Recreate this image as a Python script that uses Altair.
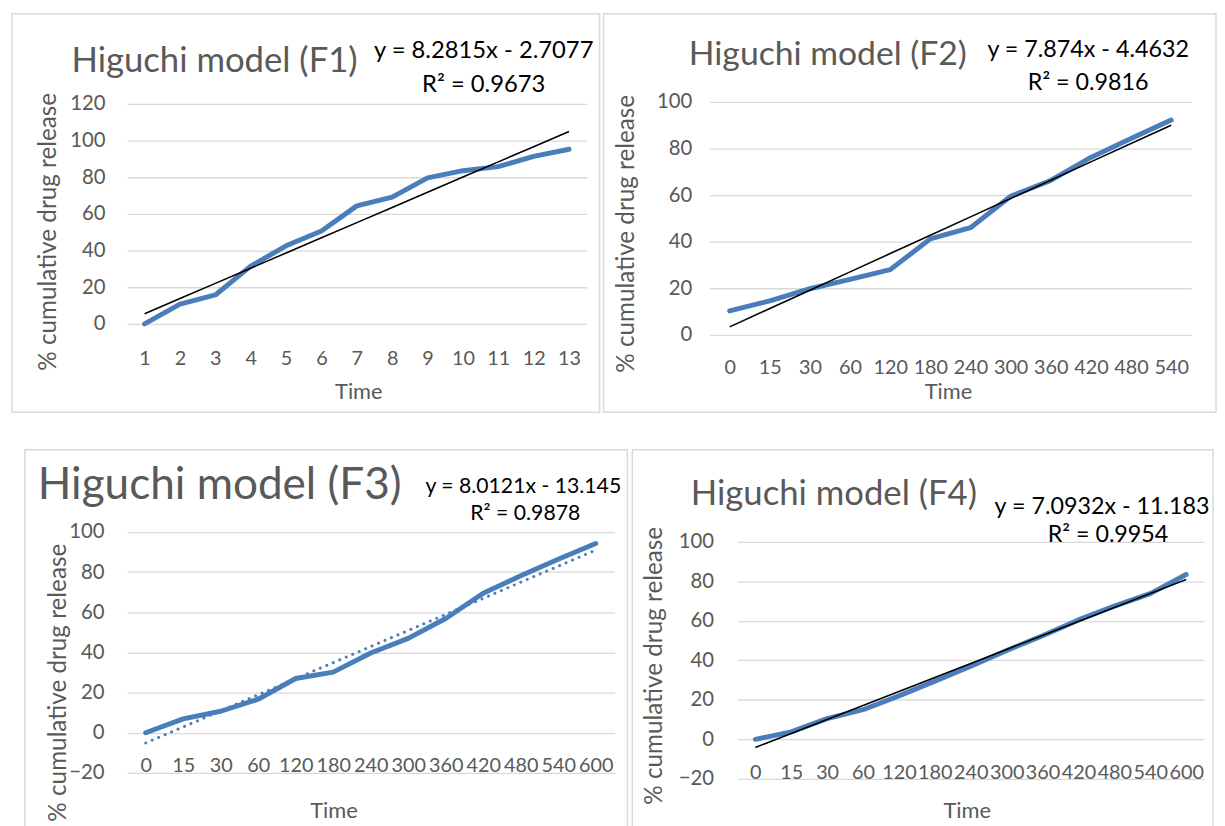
import altair as alt
import pandas as pd

FONT = "Lato"
GRAY = "#595959"
GRID = "#d9d9d9"
BLUE = "#4a7ebb"

# ---- data ----
t1 = ["1", "2", "3", "4", "5", "6", "7", "8", "9", "10", "11", "12", "13"]
v1 = [0, 10.8, 15.8, 31.5, 42.6, 50.7, 64.4, 69.2, 79.7, 83.6, 85.8, 91.4, 95.3]

t2 = ["0", "15", "30", "60", "120", "180", "240", "300", "360", "420", "480", "540"]
v2 = [10.3, 14.6, 19.8, 23.8, 28.0, 41.2, 46.0, 59.5, 66.3, 76.2, 84.3, 92.2]

t3 = ["0", "15", "30", "60", "120", "180", "240", "300", "360", "420", "480", "540", "600"]
v3 = [0, 6.9, 10.7, 16.7, 27.0, 30.2, 39.7, 47.0, 56.9, 69.5, 78.2, 86.4, 94.3]

t4 = ["0", "15", "30", "60", "120", "180", "240", "300", "360", "420", "480", "540", "600"]
v4 = [0, 3.8, 10.5, 15.0, 22.0, 29.5, 37.0, 45.0, 52.5, 60.5, 67.5, 73.8, 83.5]

slopes = [8.2815, 7.874, 8.0121, 7.0932]
intercepts = [-2.7077, -4.4632, -13.145, -11.183]
eq_texts = ["y = 8.2815x - 2.7077", "y = 7.874x - 4.4632", "y = 8.0121x - 13.145", "y = 7.0932x - 11.183"]
r2_texts = ["R\u00b2 = 0.9673", "R\u00b2 = 0.9816", "R\u00b2 = 0.9878", "R\u00b2 = 0.9954"]
titles = ["Higuchi model (F1)", "Higuchi model (F2)", "Higuchi model (F3)", "Higuchi model (F4)"]
y_title = "% cumulative drug release"
x_title = "Time"


def text_layer(txt, x, y, size, color, align="left", angle=0):
    kw = dict(align=align, baseline="middle", fontSize=size, font=FONT, color=color)
    if angle:
        kw["angle"] = angle
    return alt.Chart(pd.DataFrame({"t": [txt]})).mark_text(**kw).encode(
        text="t:N", x=alt.value(x), y=alt.value(y))


def panel(k, cats, vals, ydom, yticks, W, H, box, title_xy, title_size,
          eq_xy, eq_size, ytitle_xy, xtitle_xy, xlab_pad, x_off, ylab_pad,
          dotted=False, left_extra=None):
    trend = [slopes[k] * (i + 1) + intercepts[k] for i in range(len(cats))]
    df = pd.DataFrame({"Time": cats, "Release": vals, "Trend": trend})
    xscale = alt.Scale(type="point", padding=0.5)
    xaxis = alt.Axis(title=None, labelAngle=0, labelPadding=xlab_pad,
                     offset=x_off, ticks=False, domain=False, grid=False,
                     labelFontSize=20, labelColor=GRAY, labelFont=FONT,
                     labelOverlap=False)
    yscale = alt.Scale(domain=ydom, nice=False, zero=False)
    yaxis = alt.Axis(title=None, values=yticks, ticks=False, domain=False,
                     grid=True, gridColor=GRID, gridWidth=1.3, labelOverlap=False,
                     labelPadding=ylab_pad, labelFontSize=20.5, labelColor=GRAY,
                     labelFont=FONT)
    L, T, R, B = box
    border = alt.Chart(pd.DataFrame({"b": [0]})).mark_rect(
        fillOpacity=0, stroke=GRID, strokeWidth=1.5).encode(
        x=alt.value(-L), x2=alt.value(W + R), y=alt.value(-T), y2=alt.value(H + B))
    line = alt.Chart(df).mark_line(color=BLUE, strokeWidth=5, strokeCap="round",
                                   strokeJoin="round").encode(
        x=alt.X("Time:N", sort=cats, scale=xscale, axis=xaxis),
        y=alt.Y("Release:Q", scale=yscale, axis=yaxis))
    if dotted:
        tl = alt.Chart(df).mark_line(color=BLUE, strokeWidth=3, strokeCap="round",
                                     strokeDash=[0.1, 7])
    else:
        tl = alt.Chart(df).mark_line(color="black", strokeWidth=1.6)
    tl = tl.encode(x=alt.X("Time:N", sort=cats, scale=xscale, axis=xaxis),
                   y=alt.Y("Trend:Q", scale=yscale, axis=yaxis))
    layers = [border, line, tl,
              text_layer(titles[k], title_xy[0], title_xy[1], title_size, GRAY),
              text_layer(eq_texts[k], eq_xy[0], eq_xy[1], eq_size, "black", "center"),
              text_layer(r2_texts[k], eq_xy[2], eq_xy[3], eq_size, "black", "center"),
              text_layer(y_title, ytitle_xy[0], ytitle_xy[1], 24.5, GRAY, "center", 270),
              text_layer(x_title, xtitle_xy[0], xtitle_xy[1], 22, GRAY, "center")]
    if left_extra is not None:
        layers.append(alt.Chart(pd.DataFrame({"b": [0]})).mark_rule(opacity=0).encode(
            x=alt.value(-left_extra), y=alt.value(0), y2=alt.value(10)))
    return alt.layer(*layers).properties(width=W, height=H)


# panels in a row share their plot origin; the extra top of a domain keeps
# each panel's own top gridline where the reference has it
p1 = panel(0, t1, v1, [0, 121.08], [0, 20, 40, 60, 80, 100, 120], 464, 224,
           (116, 89, 13, 89), (-56, -41), 35, (360, -51, 360, -17), 24,
           (-79, 131), (234, 293), 25, 0, 22)
p2 = panel(1, t2, v2, [0, 100], [0, 20, 40, 60, 80, 100], 486, 235,
           (107, 89, 25, 78), (-21, -47), 34, (382, -52, 382, -19), 23.5,
           (-83, 133), (241, 293), 23, 0, 18)
p3 = panel(2, t3, v3, [-20, 100], [-20, 0, 20, 40, 60, 80, 100], 492, 243,
           (103, 83, 13, 69), (-90, -46), 44.5, (400, -45, 402, -18), 21.4,
           (-68, 152), (209, 282), 24, -41, 23, dotted=True, left_extra=120)
p4 = panel(3, t4, v4, [-20, 105.02], [-20, 0, 20, 40, 60, 80, 100], 471, 249,
           (106, 83, 9, 63), (-47, -38), 35, (368, -25, 374, 3), 23.5,
           (-83, 135), (232, 282), 24, -40, 24)

row1 = alt.hconcat(p1, p2, spacing=2)
row2 = alt.hconcat(p3, p4, spacing=3)
chart = alt.vconcat(row1, row2, spacing=36).properties(
    padding={"left": 0, "top": 1, "right": 0, "bottom": 0},
    background="white",
).configure_view(stroke=None).configure_axis(labelOverlap=False)

chart.save("out.html", embed_options={"renderer": "svg", "actions": False})
